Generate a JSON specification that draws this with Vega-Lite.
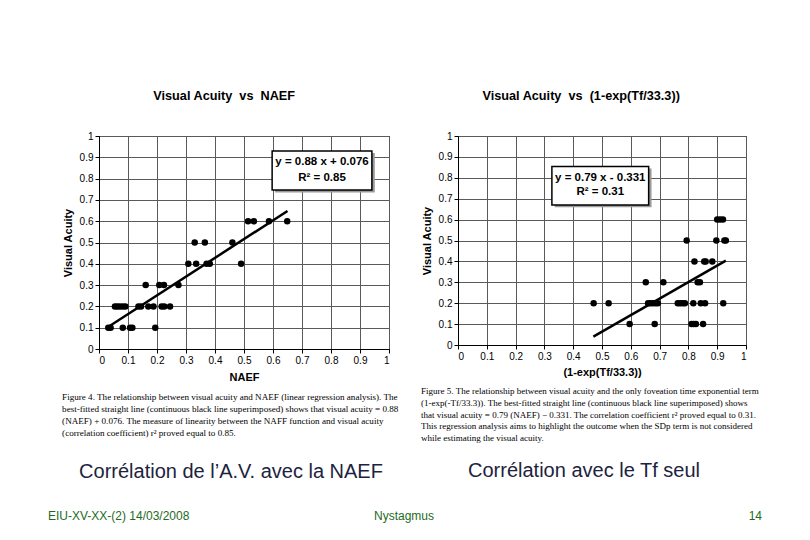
{
  "$schema": "https://vega.github.io/schema/vega-lite/v6.json",
  "background": "white",
  "padding": {"left": 47, "top": 89, "right": 10, "bottom": 5},
  "config": {
    "font": "Liberation Sans",
    "view": {"stroke": null},
    "axis": {
      "domainColor": "black", "tickColor": "black", "tickSize": 4, "labelColor": "black",
      "labelFontSize": 10, "labelFont": "Liberation Sans", "titleFont": "Liberation Sans",
      "titleFontSize": 11, "titleFontWeight": "bold", "titleColor": "black",
      "gridColor": "#5a5a5a", "gridOpacity": 1, "gridWidth": 1, "labelOverlap": false
    }
  },
  "datasets": {
    "naef": [
      {"x": 0.032, "y": 0.1}, {"x": 0.040, "y": 0.1}, {"x": 0.082, "y": 0.1}, {"x": 0.107, "y": 0.1}, {"x": 0.115, "y": 0.1}, {"x": 0.194, "y": 0.1},
      {"x": 0.055, "y": 0.2}, {"x": 0.063, "y": 0.2}, {"x": 0.072, "y": 0.2}, {"x": 0.082, "y": 0.2}, {"x": 0.091, "y": 0.2}, {"x": 0.136, "y": 0.2}, {"x": 0.145, "y": 0.2}, {"x": 0.170, "y": 0.2}, {"x": 0.188, "y": 0.2}, {"x": 0.216, "y": 0.2}, {"x": 0.225, "y": 0.2}, {"x": 0.245, "y": 0.2},
      {"x": 0.161, "y": 0.3}, {"x": 0.208, "y": 0.3}, {"x": 0.224, "y": 0.3}, {"x": 0.274, "y": 0.3},
      {"x": 0.308, "y": 0.4}, {"x": 0.335, "y": 0.4}, {"x": 0.371, "y": 0.4}, {"x": 0.382, "y": 0.4}, {"x": 0.490, "y": 0.4},
      {"x": 0.330, "y": 0.5}, {"x": 0.365, "y": 0.5}, {"x": 0.460, "y": 0.5},
      {"x": 0.514, "y": 0.6}, {"x": 0.534, "y": 0.6}, {"x": 0.586, "y": 0.6}, {"x": 0.649, "y": 0.6}
    ],
    "naefFit": [{"x": 0.03, "y": 0.102}, {"x": 0.65, "y": 0.648}],
    "tf": [
      {"x": 0.596, "y": 0.1}, {"x": 0.683, "y": 0.1}, {"x": 0.811, "y": 0.1}, {"x": 0.818, "y": 0.1}, {"x": 0.826, "y": 0.1}, {"x": 0.851, "y": 0.1},
      {"x": 0.471, "y": 0.2}, {"x": 0.523, "y": 0.2}, {"x": 0.660, "y": 0.2}, {"x": 0.668, "y": 0.2}, {"x": 0.677, "y": 0.2}, {"x": 0.686, "y": 0.2}, {"x": 0.694, "y": 0.2}, {"x": 0.763, "y": 0.2}, {"x": 0.771, "y": 0.2}, {"x": 0.780, "y": 0.2}, {"x": 0.788, "y": 0.2}, {"x": 0.817, "y": 0.2}, {"x": 0.843, "y": 0.2}, {"x": 0.858, "y": 0.2}, {"x": 0.921, "y": 0.2},
      {"x": 0.652, "y": 0.3}, {"x": 0.713, "y": 0.3}, {"x": 0.832, "y": 0.3}, {"x": 0.840, "y": 0.3},
      {"x": 0.821, "y": 0.4}, {"x": 0.855, "y": 0.4}, {"x": 0.860, "y": 0.4}, {"x": 0.883, "y": 0.4},
      {"x": 0.794, "y": 0.5}, {"x": 0.897, "y": 0.5}, {"x": 0.925, "y": 0.5}, {"x": 0.930, "y": 0.5},
      {"x": 0.900, "y": 0.6}, {"x": 0.910, "y": 0.6}, {"x": 0.920, "y": 0.6}
    ],
    "tfFit": [{"x": 0.47, "y": 0.040}, {"x": 0.93, "y": 0.404}]
  },
  "vconcat": [
    {
      "hconcat": [
        {
          "title": {"text": "Visual Acuity\u00a0 vs\u00a0 NAEF", "anchor": "middle", "fontSize": 12.7, "fontWeight": "bold", "color": "black", "offset": 28, "dx": -7},
          "spacing": 22,
          "vconcat": [
            {
              "width": 290, "height": 213,
              "view": {"stroke": "black", "strokeWidth": 1},
              "title": {
                "text": [
                  "Figure 4.  The relationship between visual acuity and NAEF (linear regression analysis). The",
                  "best-fitted straight line (continuous black line superimposed) shows that visual acuity = 0.88",
                  "(NAEF) + 0.076. The measure of linearity between the NAFF function and visual acuity",
                  "(correlation coefficient) r² proved equal to 0.85."
                ],
                "orient": "bottom", "anchor": "start", "frame": "bounds", "font": "Liberation Serif", "fontSize": 9.1,
                "fontWeight": "normal", "lineHeight": 12, "offset": 11, "color": "black"
              },
              "encoding": {
                "x": {"type": "quantitative", "scale": {"domain": [0, 1], "nice": false, "zero": false}, "axis": {"title": "NAEF", "titlePadding": 6, "tickCount": 11, "format": ".1~f", "values": [0, 0.1, 0.2, 0.3, 0.4, 0.5, 0.6, 0.7, 0.8, 0.9, 1]}},
                "y": {"type": "quantitative", "scale": {"domain": [0, 1], "nice": false, "zero": false}, "axis": {"title": "Visual Acuity", "titlePadding": 6, "tickCount": 11, "format": ".1~f", "values": [0, 0.1, 0.2, 0.3, 0.4, 0.5, 0.6, 0.7, 0.8, 0.9, 1]}}
              },
              "layer": [
                {
                  "data": {"name": "naef"},
                  "mark": {"type": "point", "filled": true, "color": "black", "size": 42, "opacity": 1},
                  "encoding": {"x": {"field": "x"}, "y": {"field": "y"}}
                },
                {
                  "data": {"name": "naefFit"},
                  "mark": {"type": "line", "color": "black", "strokeWidth": 2.5},
                  "encoding": {"x": {"field": "x"}, "y": {"field": "y"}}
                },
                {
                  "data": {"values": [{}]},
                  "mark": {"type": "rect", "fill": "#9a9a9a"},
                  "encoding": {"x": {"datum": 0.607}, "x2": {"datum": 0.951}, "y": {"datum": 0.735}, "y2": {"datum": 0.92}}
                },
                {
                  "data": {"values": [{}]},
                  "mark": {"type": "rect", "fill": "white", "stroke": "black", "strokeWidth": 1.5},
                  "encoding": {"x": {"datum": 0.597}, "x2": {"datum": 0.941}, "y": {"datum": 0.746}, "y2": {"datum": 0.93}}
                },
                {
                  "data": {"values": [{"t": "y = 0.88 x + 0.076", "yy": 0.878}, {"t": "R² = 0.85", "yy": 0.803}]},
                  "mark": {"type": "text", "fontSize": 11.5, "fontWeight": "bold", "color": "black"},
                  "encoding": {"x": {"datum": 0.769}, "y": {"field": "yy"}, "text": {"field": "t"}}
                }
              ]
            },
            {
              "width": 264, "height": 22,
              "data": {"values": [{"t": "Corrélation de l’A.V. avec la NAEF"}]},
              "mark": {"type": "text", "fontSize": 20, "font": "Liberation Sans", "color": "#1c2340"},
              "encoding": {"x": {"field": "t", "type": "nominal", "axis": null}, "text": {"field": "t"}}
            }
          ]
        },
        {
          "title": {"text": "Visual Acuity\u00a0 vs\u00a0 (1-exp(Tf/33.3))", "anchor": "middle", "fontSize": 12.7, "fontWeight": "bold", "color": "black", "offset": 28, "dx": -10},
          "spacing": 16,
          "vconcat": [
            {
              "width": 288, "height": 209,
              "view": {"stroke": "black", "strokeWidth": 1},
              "title": {
                "text": [
                  "Figure 5.  The relationship between visual acuity and the only foveation time exponential term",
                  "(1-exp(-Tf/33.3)). The best-fitted straight line (continuous black line superimposed) shows",
                  "that visual acuity = 0.79 (NAEF) − 0.331. The correlation coefficient r² proved equal to 0.31.",
                  "This regression analysis aims to highlight the outcome when the SDp term is not considered",
                  "while estimating the visual acuity."
                ],
                "orient": "bottom", "anchor": "start", "frame": "bounds", "font": "Liberation Serif", "fontSize": 9.0,
                "fontWeight": "normal", "lineHeight": 11.8, "offset": 10, "color": "black"
              },
              "encoding": {
                "x": {"type": "quantitative", "scale": {"domain": [0, 1], "nice": false, "zero": false}, "axis": {"title": "(1-exp(Tf/33.3))", "titlePadding": 5, "tickCount": 11, "format": ".1~f", "values": [0, 0.1, 0.2, 0.3, 0.4, 0.5, 0.6, 0.7, 0.8, 0.9, 1]}},
                "y": {"type": "quantitative", "scale": {"domain": [0, 1], "nice": false, "zero": false}, "axis": {"title": "Visual Acuity", "titlePadding": 6, "tickCount": 11, "format": ".1~f", "values": [0, 0.1, 0.2, 0.3, 0.4, 0.5, 0.6, 0.7, 0.8, 0.9, 1]}}
              },
              "layer": [
                {
                  "data": {"name": "tf"},
                  "mark": {"type": "point", "filled": true, "color": "black", "size": 42, "opacity": 1},
                  "encoding": {"x": {"field": "x"}, "y": {"field": "y"}}
                },
                {
                  "data": {"name": "tfFit"},
                  "mark": {"type": "line", "color": "black", "strokeWidth": 2.5},
                  "encoding": {"x": {"field": "x"}, "y": {"field": "y"}}
                },
                {
                  "data": {"values": [{}]},
                  "mark": {"type": "rect", "fill": "#9a9a9a"},
                  "encoding": {"x": {"datum": 0.336}, "x2": {"datum": 0.672}, "y": {"datum": 0.659}, "y2": {"datum": 0.844}}
                },
                {
                  "data": {"values": [{}]},
                  "mark": {"type": "rect", "fill": "white", "stroke": "black", "strokeWidth": 1.5},
                  "encoding": {"x": {"datum": 0.326}, "x2": {"datum": 0.662}, "y": {"datum": 0.67}, "y2": {"datum": 0.854}}
                },
                {
                  "data": {"values": [{"t": "y = 0.79 x - 0.331", "yy": 0.801}, {"t": "R² = 0.31", "yy": 0.731}]},
                  "mark": {"type": "text", "fontSize": 11.5, "fontWeight": "bold", "color": "black"},
                  "encoding": {"x": {"datum": 0.494}, "y": {"field": "yy"}, "text": {"field": "t"}}
                }
              ]
            },
            {
              "width": 252, "height": 22,
              "data": {"values": [{"t": "Corrélation avec le Tf seul"}]},
              "mark": {"type": "text", "fontSize": 20, "font": "Liberation Sans", "color": "#1c2340"},
              "encoding": {"x": {"field": "t", "type": "nominal", "axis": null}, "text": {"field": "t"}}
            }
          ]
        }
      ],
      "spacing": 19
    },
    {
      "width": 663, "height": 14,
      "layer": [
        {
          "data": {"values": [{"t": "EIU-XV-XX-(2) 14/03/2008"}]},
          "mark": {"type": "text", "align": "left", "fontSize": 12, "color": "#1e6b1e"},
          "encoding": {"x": {"datum": -0.077, "scale": {"domain": [0, 1]}, "axis": null}, "text": {"field": "t"}}
        },
        {
          "data": {"values": [{"t": "Nystagmus"}]},
          "mark": {"type": "text", "align": "center", "fontSize": 12, "color": "#1e6b1e"},
          "encoding": {"x": {"datum": 0.46}, "text": {"field": "t"}}
        },
        {
          "data": {"values": [{"t": "14"}]},
          "mark": {"type": "text", "align": "right", "fontSize": 12, "color": "#1e6b1e"},
          "encoding": {"x": {"datum": 1}, "text": {"field": "t"}}
        }
      ]
    }
  ],
  "spacing": 26
}
